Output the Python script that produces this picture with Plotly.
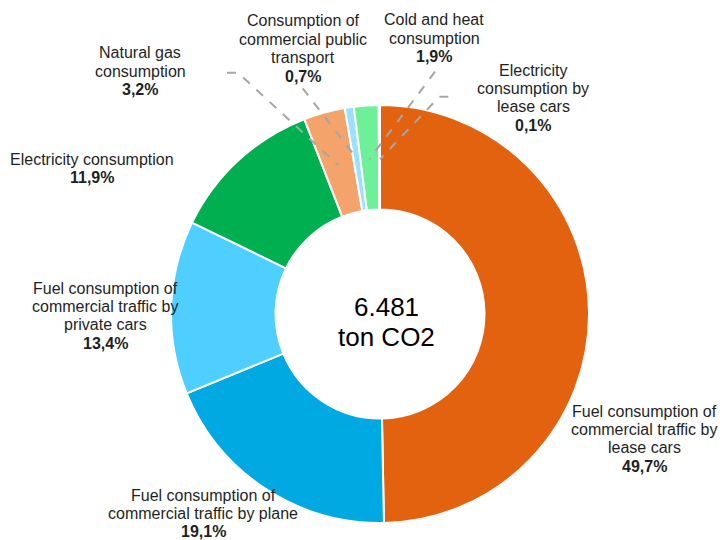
import plotly.graph_objects as go

# ---- data ----
categories = [
    "Fuel consumption of commercial traffic by lease cars",
    "Fuel consumption of commercial traffic by plane",
    "Fuel consumption of commercial traffic by private cars",
    "Electricity consumption",
    "Natural gas consumption",
    "Consumption of commercial public transport",
    "Cold and heat consumption",
    "Electricity consumption by lease cars",
]
shares = [49.7, 19.1, 13.4, 11.9, 3.2, 0.7, 1.9, 0.1]
label_lines = [
    ["Fuel consumption of", "commercial traffic by", "lease cars"],
    ["Fuel consumption of", "commercial traffic by plane"],
    ["Fuel consumption of", "commercial traffic by", "private cars"],
    ["Electricity consumption"],
    ["Natural gas", "consumption"],
    ["Consumption of", "commercial public", "transport"],
    ["Cold and heat", "consumption"],
    ["Electricity", "consumption by", "lease cars"],
]
total_text = ["6.481", "ton CO2"]

# ---- style ----
colors = ["#E36210", "#00A9E2", "#4FCFFF", "#00B050",
          "#F4A46A", "#9BE0FF", "#6DF097", "#F7CFAE"]
W, H = 720, 540
# label block: centre x, first line y (pixels from top)
label_pos = [(644, 411), (203, 495), (105, 288), (92, 159),
             (140, 53), (303, 21), (434, 20), (533, 70)]
line_gap = 18.4
text_color = "#1F1F1F"
font_family = "Liberation Sans, Arial, sans-serif"

def px(x, y):
    return x / W, 1 - y / H

fig = go.Figure(go.Pie(
    labels=categories,
    values=shares,
    hole=0.5,
    sort=False,
    direction="clockwise",
    rotation=0,
    textinfo="none",
    hoverinfo="label+percent",
    marker=dict(colors=colors, line=dict(color="white", width=2)),
    domain=dict(x=[171 / W, 589 / W], y=[17 / H, 435 / H]),
    showlegend=False,
))

annotations = []
for lines, val, (cx, y0) in zip(label_lines, shares, label_pos):
    all_lines = lines + ["<b>" + f"{val:.1f}".replace(".", ",") + "%</b>"]
    for i, t in enumerate(all_lines):
        x, y = px(cx, y0 + i * line_gap)
        annotations.append(dict(
            x=x, y=y, xref="paper", yref="paper", text=t, showarrow=False,
            xanchor="center", yanchor="middle",
            font=dict(size=16, color=text_color, family=font_family)))

for i, t in enumerate(total_text):
    x, y = px(386, 307 + i * 30)
    annotations.append(dict(
        x=x, y=y, xref="paper", yref="paper", text=t, showarrow=False,
        xanchor="center", yanchor="middle",
        font=dict(size=26, color="#000000", family=font_family)))

leaders = [
    [(227, 72.7), (238, 72.7), (338, 165)],
    [(302.7, 88.3), (358, 160)],
    [(435, 71.7), (369.3, 159.3)],
    [(448.3, 96.7), (439.3, 96.7), (380, 159.3)],
]
shapes = []
for pts in leaders:
    path = ""
    for j, (x, y) in enumerate(pts):
        xp, yp = px(x, y)
        path += ("M" if j == 0 else " L") + f" {xp:.5f},{yp:.5f}"
    shapes.append(dict(type="path", path=path, xref="paper", yref="paper",
                       line=dict(color="#A6A6A6", width=2, dash="dash")))

fig.update_layout(
    width=W, height=H,
    margin=dict(l=0, r=0, t=0, b=0),
    paper_bgcolor="white", plot_bgcolor="white",
    annotations=annotations, shapes=shapes,
)

fig.write_html("out.html")
